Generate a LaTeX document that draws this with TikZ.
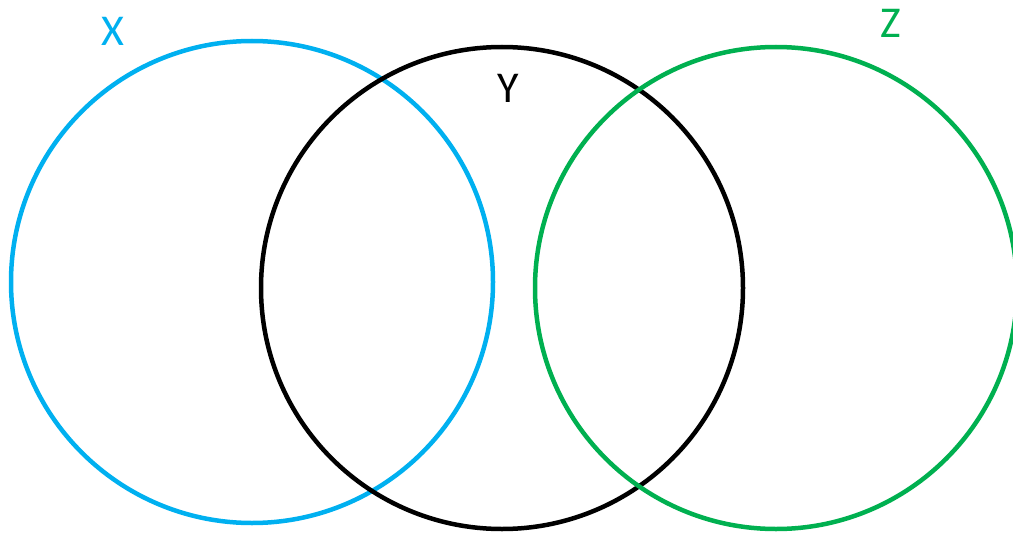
\documentclass[tikz,border=0pt]{standalone}
\usepackage{fontspec}
\setmainfont{Carlito}
\definecolor{xblue}{HTML}{00B0F0}
\definecolor{zgreen}{HTML}{00B050}
\begin{document}
\begin{tikzpicture}[x=1pt,y=-1pt,
  setcircle/.style={circle, draw, line width=4.5pt, inner sep=0pt, minimum size=482pt},
  setlabel/.style={font=\fontsize{44}{44}\selectfont, inner sep=0pt}]
\useasboundingbox (0,0) rectangle (1013,535);
\node[setcircle, draw=xblue] (X) at (252,282) {};
\node[setcircle, draw=black] (Y) at (502,288) {};
\node[setcircle, draw=zgreen] (Z) at (776,288) {};
\node[setlabel, text=xblue] (lx) at (113,31) {X};
\node[setlabel, text=black] (ly) at (508,88) {Y};
\node[setlabel, text=zgreen] (lz) at (891,23) {Z};
\end{tikzpicture}
\end{document}
